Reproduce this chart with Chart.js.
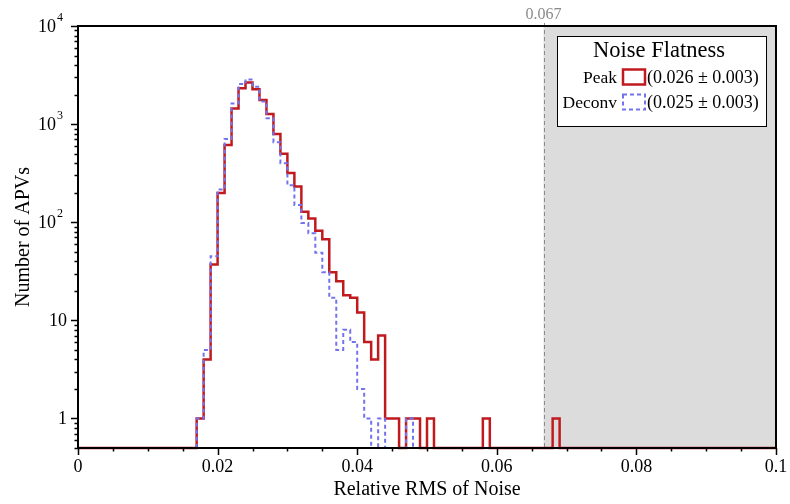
<!DOCTYPE html>
<html><head><meta charset="utf-8">
<script src="https://cdn.jsdelivr.net/npm/chart.js@4"></script>
<style>html,body{margin:0;padding:0;background:#fff}</style>
</head><body>
<canvas id="c" width="790" height="504" style="width:790px;height:504px;display:block"></canvas>
<script>
// ---- data (histogram, bin width 0.001 from 0 to 0.1) ----
const xMin = 0;
const xMax = 0.1;
const binWidth = 0.001;
const peakCounts = [
  0,0,0,0,0,0,0,0,0,0,
  0,0,0,0,0,0,0,1,4,37,
  198,612,1446,2314,2663,2260,1759,1268,794,500,
  318,231,128,109,82,67,31,25,18,17,
  12,6,4,7,1,1,0,1,1,0,
  1,0,0,0,0,0,0,0,1,0,
  0,0,0,0,0,0,0,0,1,0,
  0,0,0,0,0,0,0,0,0,0,
  0,0,0,0,0,0,0,0,0,0,
  0,0,0,0,0,0,0,0,0,0
];
const deconvCounts = [
  0,0,0,0,0,0,0,0,0,0,
  0,0,0,0,0,0,0,1,5,45,
  215,705,1624,2557,2850,2400,1700,1150,655,400,
  238,150,98,77,49,31,17,5,8,6,
  2,1,0,1,0,0,0,1,0,0,
  0,0,0,0,0,0,0,0,0,0,
  0,0,0,0,0,0,0,0,0,0,
  0,0,0,0,0,0,0,0,0,0,
  0,0,0,0,0,0,0,0,0,0,
  0,0,0,0,0,0,0,0,0,0
];
const seriesNames = ['Peak', 'Deconv'];
const seriesStats = ['(0.026 \u00b1 0.003)', '(0.025 \u00b1 0.003)'];
const legendTitle = 'Noise Flatness';
const xTitle = 'Relative RMS of Noise';
const yTitle = 'Number of APVs';
const xTickLabels = ['0', '0.02', '0.04', '0.06', '0.08', '0.1'];
const yTickValues = [1, 10, 100, 1000, 10000];
const yTickBase = ['1', '10', '10', '10', '10'];
const yTickExp = ['', '', '2', '3', '4'];
const yMin = 0.5;
const yMax = 10000;
const cutValue = 0.0667;
const cutLabel = '0.067';

const FONT = '"Liberation Serif", "Times New Roman", serif';

function histPoints(counts) {
  const pts = [];
  for (let i = 0; i < counts.length; i++) {
    pts.push({x: xMin + i * binWidth, y: counts[i] > 0 ? counts[i] : yMin});
  }
  const last = counts[counts.length - 1];
  pts.push({x: xMax, y: last > 0 ? last : yMin});
  return pts;
}

const overlay = {
  id: 'overlay',
  beforeDatasetsDraw(chart) {
    const {ctx, chartArea: a, scales: {x}} = chart;
    const xc = x.getPixelForValue(cutValue);
    const xr = x.getPixelForValue(xMax);
    ctx.save();
    ctx.fillStyle = '#dcdcdc';
    ctx.fillRect(xc, a.top, xr - xc, a.bottom - a.top);
    ctx.strokeStyle = '#8a8a8a';
    ctx.lineWidth = 1;
    ctx.setLineDash([4, 3]);
    ctx.beginPath();
    ctx.moveTo(Math.round(xc) + 0.5, 23);
    ctx.lineTo(Math.round(xc) + 0.5, a.bottom);
    ctx.stroke();
    ctx.setLineDash([]);
    ctx.fillStyle = '#8a8a8a';
    ctx.font = '16px ' + FONT;
    ctx.textAlign = 'center';
    ctx.textBaseline = 'alphabetic';
    ctx.fillText(cutLabel, xc, 19);
    ctx.restore();
  },
  afterDatasetsDraw(chart) {
    const {ctx, chartArea: a, scales: {x, y}} = chart;
    ctx.save();
    // frame
    ctx.strokeStyle = '#000';
    ctx.lineWidth = 2;
    ctx.strokeRect(a.left, a.top, a.right - a.left, a.bottom - a.top);
    // x tick marks
    ctx.lineWidth = 1.5;
    ctx.beginPath();
    for (let k = 0; k <= 20; k++) {
      const v = k * 0.005;
      const px = Math.round(x.getPixelForValue(v)) + 0.5;
      const len = (k % 4 === 0) ? 7 : 3.5;
      ctx.moveTo(px, a.bottom);
      ctx.lineTo(px, a.bottom + len);
    }
    ctx.stroke();
    // y tick marks
    ctx.beginPath();
    for (let d = -1; d <= 4; d++) {
      for (let m = 1; m <= 9; m++) {
        const v = m * Math.pow(10, d);
        if (v < yMin || v > yMax) continue;
        const py = Math.round(y.getPixelForValue(v)) + 0.5;
        const len = m === 1 ? 7 : 3.5;
        ctx.moveTo(a.left, py);
        ctx.lineTo(a.left - len, py);
      }
    }
    ctx.stroke();
    // y tick labels
    ctx.fillStyle = '#000';
    ctx.textBaseline = 'middle';
    const right = a.left - 13;
    yTickValues.forEach((v, i) => {
      const py = y.getPixelForValue(v);
      if (yTickExp[i]) {
        ctx.font = '12px ' + FONT;
        ctx.textAlign = 'right';
        const ew = ctx.measureText(yTickExp[i]).width;
        ctx.fillText(yTickExp[i], right - 2, py - 8);
        ctx.font = '18px ' + FONT;
        ctx.fillText(yTickBase[i], right - 2 - ew - 1, py + 1);
      } else {
        ctx.font = '18px ' + FONT;
        ctx.textAlign = 'right';
        ctx.fillText(yTickBase[i], right + 2, py + 1);
      }
    });
    // legend
    const lx = 557, ly = 36, lw = 209, lh = 90;
    ctx.fillStyle = '#fff';
    ctx.fillRect(lx, ly, lw, lh);
    ctx.strokeStyle = '#000';
    ctx.lineWidth = 1;
    ctx.strokeRect(lx + 0.5, ly + 0.5, lw, lh);
    ctx.fillStyle = '#000';
    ctx.font = '22.5px ' + FONT;
    ctx.textAlign = 'center';
    ctx.textBaseline = 'middle';
    ctx.fillText(legendTitle, 659, ly + 15);
    const rows = [77, 102];
    const ds = chart.data.datasets;
    seriesNames.forEach((name, i) => {
      const cy = rows[i];
      ctx.font = '17.5px ' + FONT;
      ctx.fillStyle = '#000';
      ctx.textAlign = 'right';
      ctx.fillText(name, 617, cy + 1);
      ctx.font = '18px ' + FONT;
      ctx.textAlign = 'left';
      ctx.fillText(seriesStats[i], 647, cy + 1);
      const d = ds.find(s => s.label === name);
      ctx.strokeStyle = d.borderColor;
      ctx.lineWidth = d.borderWidth;
      ctx.setLineDash(d.borderDash || []);
      ctx.strokeRect(623, cy - 7.5, 22, 15);
      ctx.setLineDash([]);
    });
    ctx.restore();
  }
};

new Chart(document.getElementById('c'), {
  type: 'line',
  data: {
    datasets: [
      {
        label: seriesNames[1],
        data: histPoints(deconvCounts),
        borderColor: '#7373ee',
        borderWidth: 2,
        borderDash: [4, 3],
        stepped: true,
        pointRadius: 0,
        fill: false,
        clip: false,
        order: 0
      },
      {
        label: seriesNames[0],
        data: histPoints(peakCounts),
        borderColor: '#c01a1f',
        borderWidth: 2.5,
        stepped: true,
        pointRadius: 0,
        fill: false,
        clip: false,
        order: 1
      }
    ]
  },
  options: {
    responsive: false,
    animation: false,
    devicePixelRatio: 1,
    layout: {padding: {left: 0, right: 14, top: 26, bottom: 0}},
    plugins: {legend: {display: false}, tooltip: {enabled: false}},
    scales: {
      x: {
        type: 'linear',
        min: xMin,
        max: xMax,
        afterFit: s => { s.height = 56; s.paddingLeft = 0; s.paddingRight = 0; },
        afterBuildTicks: s => { s.ticks = xTickLabels.map(t => ({value: parseFloat(t)})); },
        grid: {display: false, drawTicks: false},
        border: {display: false},
        ticks: {
          callback: (v, i) => xTickLabels[i],
          font: {family: FONT, size: 18},
          color: '#000',
          padding: 8,
          maxRotation: 0
        },
        title: {
          display: true,
          text: xTitle,
          font: {family: FONT, size: 20},
          color: '#000',
          padding: {top: 0, bottom: 2}
        }
      },
      y: {
        type: 'logarithmic',
        min: yMin,
        max: yMax,
        afterFit: s => { s.width = 78; s.paddingTop = 0; s.paddingBottom = 0; },
        grid: {display: false, drawTicks: false},
        border: {display: false},
        ticks: {display: false},
        title: {
          display: true,
          text: yTitle,
          font: {family: FONT, size: 20},
          color: '#000',
          padding: {top: 12, bottom: 0}
        }
      }
    }
  },
  plugins: [overlay]
});
</script>
</body></html>
